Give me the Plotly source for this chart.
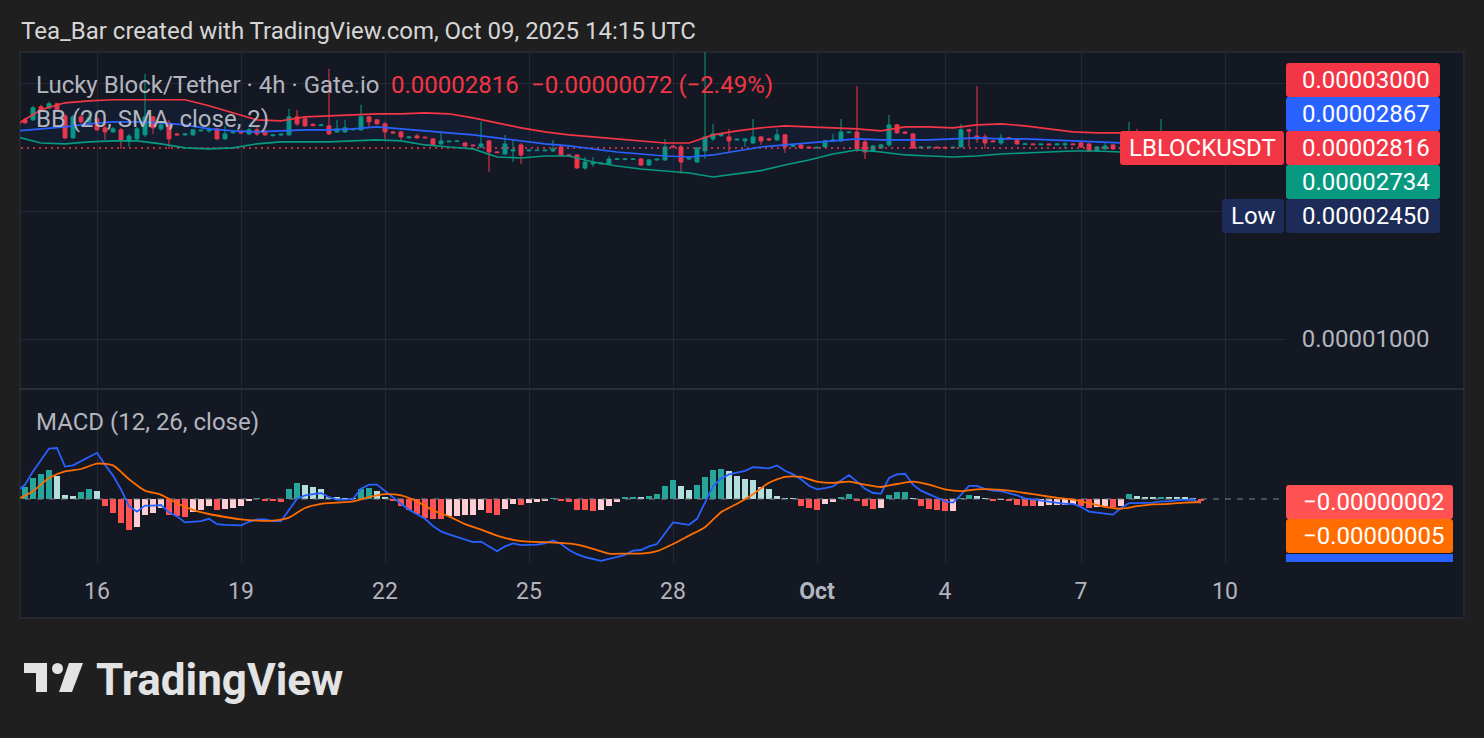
import plotly.graph_objects as go

W, H = 1484, 738

# ---------------- data (prices in units of 1e-8 USDT) ----------------
# 4h bars; bar 0 = 16 Sep 2025 00:00 UTC (a few exchange bars are missing after 1 Oct)
bar_index = list(range(-9, 139))

open_e8 = [3278, 3278, 3518, 3499, 3576, 3350, 2973, 3332, 3243,
           3296, 3139, 3071, 3105, 2925, 2957, 3022, 3332, 3122, 3225,
           3038, 3022, 3022, 3088, 3088, 3122, 2957, 3055, 3068, 3038,
           3105, 3088, 3010, 3020, 3022, 3332, 3296, 3200, 3178, 3173,
           3071, 3071, 3108, 3105, 3332, 3278, 3208, 3071, 3071, 2975,
           3005, 2985, 2957, 2878, 2910, 2918, 2893, 2860, 2831, 2925,
           2755, 2725, 2770, 2862, 2772, 2775, 2772, 2770, 2831, 2711,
           2711, 2526, 2581, 2582, 2581, 2645, 2645, 2645, 2652, 2567,
           2638, 2638, 2845, 2831, 2652, 2609, 2770, 2957, 3010, 2989,
           2940, 2925, 2893, 2989, 2957, 2941, 3022, 2840, 2862, 2830,
           2815, 2831, 2925, 2925, 3058, 3071, 2909, 2770, 2816, 2862,
           3190, 3068, 3038, 2816, 2818, 2828, 2826, 2816, 2831, 3105,
           3005, 2989, 2925, 2893, 2975, 2941, 2868, 2878, 2864, 2876,
           2864, 2866, 2878, 2893, 2878, 2770, 2801, 2862, 2805, 2818,
           2925, 2840, 2870, 2830, 2893, 2840, 2870, 2835, 2888]

high_e8 = [3314, 3537, 3556, 3615, 3595, 3387, 3368, 3368, 3424,
           3332, 3225, 3156, 3139, 3038, 3156, 4204, 3350, 3260, 3278,
           3055, 3038, 3122, 3110, 3156, 3139, 3173, 3075, 3075, 3139,
           3156, 3105, 3028, 3040, 3480, 3461, 3332, 3215, 3198, 4321,
           3278, 3278, 3128, 3556, 3350, 3296, 3243, 3088, 3088, 2995,
           3038, 2995, 2973, 3071, 2928, 2930, 2909, 2870, 3243, 2941,
           2765, 3022, 2941, 2893, 2790, 2790, 2790, 2941, 2847, 2722,
           2725, 2681, 2681, 2600, 2696, 2665, 2665, 2660, 2667, 2652,
           2655, 2957, 2860, 2862, 2681, 2831, 4800, 3208, 3055, 3122,
           2960, 2973, 3296, 3005, 2973, 3122, 3038, 2860, 2878, 2835,
           2832, 2941, 3038, 3296, 3075, 3941, 2941, 2862, 2878, 3368,
           3208, 3080, 3055, 2840, 2835, 2835, 2832, 2832, 3208, 3122,
           3941, 3038, 2941, 3038, 2989, 2957, 2888, 2885, 2882, 2882,
           2885, 2905, 2885, 2909, 2893, 2847, 2909, 2878, 2825, 3243,
           3122, 2941, 2941, 3296, 2941, 2909, 2909, 2893, 2895]

low_e8 = [3208, 3260, 3442, 3480, 3424, 2957, 2957, 3208, 3208,
          3088, 2941, 3055, 2801, 2831, 2925, 2989, 3038, 3088, 2801,
          3005, 3005, 3005, 3080, 3055, 2941, 2941, 3045, 3045, 3022,
          3005, 3005, 2995, 3012, 3005, 3173, 3156, 3165, 3170, 3022,
          3055, 3055, 3098, 3088, 3156, 3190, 2957, 3038, 2941, 2965,
          2957, 2965, 2847, 2862, 2900, 2905, 2831, 2840, 2816, 2473,
          2735, 2711, 2609, 2581, 2765, 2768, 2765, 2755, 2696, 2690,
          2512, 2498, 2540, 2575, 2567, 2640, 2635, 2640, 2553, 2553,
          2630, 2624, 2820, 2450, 2638, 2595, 2652, 2925, 2989, 2755,
          2930, 2831, 2878, 2862, 2925, 2925, 2740, 2832, 2801, 2810,
          2808, 2816, 2909, 2909, 3050, 2755, 2652, 2755, 2801, 2831,
          3038, 3040, 2801, 2810, 2812, 2812, 2810, 2810, 2816, 2831,
          2893, 2801, 2909, 2862, 2957, 2862, 2862, 2860, 2858, 2858,
          2858, 2801, 2860, 2816, 2755, 2755, 2785, 2785, 2795, 2801,
          2785, 2820, 2801, 2816, 2816, 2801, 2816, 2801, 2801]

close_e8 = [3225, 3499, 3461, 3576, 3461, 2973, 3332, 3243, 3314,
            3105, 3071, 3122, 2941, 3005, 3122, 3332, 3139, 3190, 2957,
            3022, 3038, 3105, 3100, 3105, 2957, 3038, 3068, 3055, 3105,
            3038, 3022, 3020, 3035, 3332, 3208, 3173, 3178, 3190, 3038,
            3122, 3139, 3120, 3332, 3243, 3208, 3071, 3055, 2989, 2988,
            2973, 2975, 2862, 2925, 2920, 2922, 2847, 2850, 2878, 2755,
            2745, 2878, 2785, 2711, 2782, 2782, 2782, 2801, 2711, 2700,
            2526, 2609, 2595, 2595, 2652, 2652, 2652, 2652, 2567, 2638,
            2650, 2831, 2832, 2609, 2667, 2816, 2989, 3038, 3035, 2925,
            2952, 2957, 2989, 2925, 2941, 3022, 2831, 2852, 2816, 2818,
            2825, 2925, 2938, 3071, 3068, 2801, 2755, 2847, 2862, 3190,
            3055, 3050, 2816, 2828, 2828, 2818, 2816, 2826, 3105, 3088,
            2957, 2893, 2912, 2973, 2962, 2878, 2878, 2866, 2875, 2865,
            2876, 2878, 2866, 2831, 2770, 2831, 2847, 2801, 2818, 2925,
            2847, 2870, 2830, 2893, 2850, 2870, 2850, 2888, 2816]

# Bollinger Bands (20, SMA, close, 2) read every 3 bars
bb_index = [-10, -7, -4, -1, 2, 5, 8, 11, 14, 17, 20, 23, 26, 29, 32, 35, 38,
            41, 44, 47, 50, 53, 56, 59, 62, 65, 68, 71, 74, 77, 80, 83, 86, 89,
            92, 95, 98, 101, 104, 107, 110, 113, 116, 119, 122, 125, 128, 131,
            134, 137, 138]
bb_upper_e8 = [3200, 3461, 3595, 3634, 3654, 3654, 3654, 3654, 3537, 3405, 3278,
               3260, 3332, 3350, 3368, 3387, 3387, 3405, 3387, 3314, 3225, 3139,
               3071, 3022, 2989, 2957, 2925, 2893, 2893, 3022, 3088, 3139, 3173,
               3156, 3139, 3122, 3088, 3156, 3156, 3139, 3190, 3208, 3173, 3122,
               3071, 3055, 3055, 3038, 3022, 3005, 3000]
bb_basis_e8 = [3088, 3122, 3156, 3208, 3243, 3243, 3225, 3190, 3122, 3088, 3071,
               3088, 3105, 3105, 3122, 3156, 3122, 3088, 3055, 3022, 2973, 2925,
               2878, 2847, 2801, 2755, 2725, 2696, 2681, 2711, 2770, 2831, 2862,
               2893, 2925, 2957, 2941, 2941, 2941, 2957, 2973, 2957, 2957, 2941,
               2925, 2909, 2893, 2878, 2878, 2870, 2867]
bb_lower_e8 = [2989, 2893, 2878, 2909, 2925, 2925, 2878, 2816, 2801, 2816, 2878,
               2909, 2909, 2909, 2925, 2941, 2925, 2862, 2831, 2801, 2681, 2667,
               2696, 2696, 2609, 2553, 2512, 2485, 2458, 2405, 2445, 2490, 2567,
               2638, 2725, 2785, 2755, 2711, 2696, 2681, 2696, 2725, 2740, 2755,
               2770, 2770, 2755, 2755, 2740, 2740, 2734]

last_price_e8 = 2816

# MACD (12, 26, close), values in units of 1e-8
macd_index = list(range(-10, 139))
macd_e8 = [13, 24, 46, 66, 84, 85, 54, 56, 63, 71,
           77, 57, 39, 16, -12, -21, -11, -11, -10, -22,
           -29, -39, -38, -37, -33, -42, -43, -44, -44, -38,
           -34, -34, -37, -37, -19, 0.5, 6, 8, 10, 3,
           -1, -1, 0, 17, 24, 24, 13, 2, -8, -18,
           -26, -33, -45, -54, -59, -63, -68, -72, -71, -79,
           -87, -79, -74, -77, -77, -76, -74, -69, -75, -85,
           -92, -97, -100, -103, -100, -97, -93, -86, -85, -79,
           -75, -57, -39, -41, -43, -33, -7, 21, 34, 41,
           44, 47, 53, 52, 51, 56, 47, 41, 33, 22,
           16, 18, 21, 31, 40, 29, 17, 10, 9, 35,
           41, 42, 24, 14, 8, 2, -4, -6, 7, 22,
           22, 17, 14, 13, 10, 6, 1, -1, -3, -5,
           -7, -8, -8, -13, -21, -23, -24, -26, -15, -7,
           -7, -7, -6, -4, -4, -2, -1, -1, -7]

signal_index = list(range(-10, 139, 2))
signal_e8 = [-1, 13, 35, 46, 50,
             59, 56, 33, 14, 7,
             -7, -18, -25, -30, -34,
             -36, -36, -31, -15, -8,
             -6, -4, 3, 8, 6,
             -4, -19, -29, -42, -51,
             -61, -68, -71, -72, -73,
             -76, -83, -91, -91, -91,
             -87, -75, -61, -47, -22,
             -8, 8, 27, 37, 37,
             29, 27, 29, 24, 20,
             25, 29, 24, 16, 13,
             16, 16, 14, 10, 6,
             2, -1, -7, -13, -16,
             -12, -9, -8, -6, -5]

hist_e8 = [20, 35, 42, 49, 39, 6, 5, 12, 16,
           14, -11, -23, -40, -52, -46, -26, -23, -15, -26,
           -29, -30, -21, -18, -12, -18, -17, -15, -11, -4,
           1, -3, -4, -4.5, 17, 27, 24, 20, 17, 4,
           2, 1.5, 1, 16, 18, 14, 4, -4, -11, -18,
           -25, -32, -33, -34, -29, -28, -27, -26, -19, -23,
           -26, -17, -9, -10, -6, -5, -4, 0.5, -4, -5.5,
           -18, -19, -20, -18, -11, -5.5, 2, 3, 2, 5.5,
           9, 22, 31, 22, 15.5, 24, 37, 49, 50.5, 46,
           39, 34, 32, 20, 17, 5.5, 0.5, 0.3, -11, -15,
           -18, -9, -5.5, 3, 9, -2, -12, -17, -15, 6,
           12, 12.5, 0.5, -11, -17, -19, -20.5, -20, 0.5, 7,
           4.5, 0.3, -2, -1, -4, -9.5, -11, -12, -11, -10.5,
           -10, -9.5, -9, -12, -15.5, -13, -12, -13, -11, 8,
           4.5, 3.3, 2.8, 3, 2.9, 2.5, 2.3, 1.5, -2]

tick_bars = [0, 18, 36, 54, 72, 90, 106, 123, 141]
tick_labels = ["16", "19", "22", "25", "28", "<b>Oct</b>", "4", "7", "10"]

# price grid levels; only the 0.00001000 label is visible (others sit under the badges)
price_ticks = [1e-5, 2e-5, 4e-5]
price_tick_text = ["0.00001000", "", ""]

E8 = 1e-8
# ---------------- styling ----------------
PAGE = "#1f1f1f"
PANEL = "#141823"
GRID = "#242834"
GREEN = "#089981"
RED = "#F23645"
BLUE = "#2962FF"
ORANGE = "#FF6D00"
TXT = "#B2B5BE"
FONT = "Roboto, sans-serif"


def fx(x):
    return x / W


def fy(y):
    return 1 - y / H


def rrect(x0, y0, x1, y1, r=3):
    return (f"M {fx(x0 + r)},{fy(y0)} L {fx(x1 - r)},{fy(y0)} Q {fx(x1)},{fy(y0)} {fx(x1)},{fy(y0 + r)} "
            f"L {fx(x1)},{fy(y1 - r)} Q {fx(x1)},{fy(y1)} {fx(x1 - r)},{fy(y1)} "
            f"L {fx(x0 + r)},{fy(y1)} Q {fx(x0)},{fy(y1)} {fx(x0)},{fy(y1 - r)} "
            f"L {fx(x0)},{fy(y0 + r)} Q {fx(x0)},{fy(y0)} {fx(x0 + r)},{fy(y0)} Z")


def sc(vals):
    return [v * E8 for v in vals]


fig = go.Figure()

# Bollinger fill
fig.add_trace(go.Scatter(x=bb_index, y=sc(bb_upper_e8), mode="lines",
                         line=dict(width=0, color=RED), hoverinfo="skip", showlegend=False))
fig.add_trace(go.Scatter(x=bb_index, y=sc(bb_lower_e8), mode="lines", fill="tonexty",
                         fillcolor="rgba(41,98,255,0.06)", line=dict(width=0, color=GREEN),
                         hoverinfo="skip", showlegend=False))
# last price dotted line
fig.add_trace(go.Scatter(x=[bar_index[0] - 2, bar_index[-1] + 20],
                         y=[last_price_e8 * E8, last_price_e8 * E8], mode="lines",
                         line=dict(color=RED, width=1.5, dash="2px,4px"),
                         hoverinfo="skip", showlegend=False))
# candles
fig.add_trace(go.Candlestick(x=bar_index, open=sc(open_e8), high=sc(high_e8), low=sc(low_e8),
                             close=sc(close_e8), whiskerwidth=0,
                             increasing=dict(line=dict(color=GREEN, width=1), fillcolor=GREEN),
                             decreasing=dict(line=dict(color=RED, width=1), fillcolor=RED),
                             hoverinfo="skip", showlegend=False))
# BB lines
for vals, col in [(bb_upper_e8, RED), (bb_basis_e8, BLUE), (bb_lower_e8, GREEN)]:
    fig.add_trace(go.Scatter(x=bb_index, y=sc(vals), mode="lines",
                             line=dict(color=col, width=1.6), hoverinfo="skip", showlegend=False))

# MACD pane
fig.add_trace(go.Scatter(x=[-12, 160], y=[0, 0], mode="lines",
                         line=dict(color="rgba(120,123,134,0.75)", width=1.5, dash="6px,6px"),
                         xaxis="x2", yaxis="y2", hoverinfo="skip", showlegend=False))
hist_colors = []
prev = None
for v in hist_e8:
    p = v - 1 if prev is None else prev
    if v >= 0:
        hist_colors.append("#26A69A" if v > p else "#B2DFDB")
    else:
        hist_colors.append("#FFCDD2" if v > p else "#FF5252")
    prev = v
fig.add_trace(go.Bar(x=bar_index, y=sc(hist_e8), width=0.7, marker=dict(color=hist_colors, line=dict(width=0)),
                     xaxis="x2", yaxis="y2", hoverinfo="skip", showlegend=False))
fig.add_trace(go.Scatter(x=macd_index, y=sc(macd_e8), mode="lines", line=dict(color=BLUE, width=1.8),
                         xaxis="x2", yaxis="y2", hoverinfo="skip", showlegend=False))
fig.add_trace(go.Scatter(x=signal_index, y=sc(signal_e8), mode="lines",
                         line=dict(color=ORANGE, width=1.8, shape="spline", smoothing=0.6),
                         xaxis="x2", yaxis="y2", hoverinfo="skip", showlegend=False))

XR = [-9.625, 148.5]
dom_x = [fx(20), fx(1285)]
shapes = [
    dict(type="rect", xref="paper", yref="paper", x0=fx(20), x1=fx(1464), y0=fy(618), y1=fy(52),
         fillcolor=PANEL, line=dict(color="#2a2d36", width=1.5), layer="below"),
    dict(type="line", xref="paper", yref="paper", x0=fx(20), x1=fx(1464), y0=fy(389), y1=fy(389),
         line=dict(color="#2a2e39", width=2)),
]

# badges
price_badges = [("0.00003000", RED, 63, 97), ("0.00002867", BLUE, 97, 131),
                ("0.00002816", RED, 131, 165), ("0.00002734", GREEN, 165, 199),
                ("0.00002450", "#1c2b57", 199, 233)]
annotations = []
for txt, col, y0, y1 in price_badges:
    shapes.append(dict(type="path", xref="paper", yref="paper", path=rrect(1286, y0, 1440, y1),
                       fillcolor=col, line=dict(width=0)))
    annotations.append(dict(x=fx(1432), y=fy((y0 + y1) / 2), xref="paper", yref="paper", text=txt,
                            xanchor="right", yanchor="middle", showarrow=False,
                            font=dict(family=FONT, size=24, color="white")))
shapes.append(dict(type="path", xref="paper", yref="paper", path=rrect(1120, 131, 1284, 165),
                   fillcolor=RED, line=dict(width=0)))
annotations.append(dict(x=fx(1202), y=fy(148), xref="paper", yref="paper", text="LBLOCKUSDT",
                        xanchor="center", yanchor="middle", showarrow=False,
                        font=dict(family=FONT, size=24, color="white")))
shapes.append(dict(type="path", xref="paper", yref="paper", path=rrect(1222, 199, 1284, 233),
                   fillcolor="#1c2b57", line=dict(width=0)))
annotations.append(dict(x=fx(1253), y=fy(216), xref="paper", yref="paper", text="Low",
                        xanchor="center", yanchor="middle", showarrow=False,
                        font=dict(family=FONT, size=24, color="white")))

macd_badges = [("−0.00000002", "#FF5252", 485, 519), ("−0.00000005", ORANGE, 519, 553)]
for txt, col, y0, y1 in macd_badges:
    shapes.append(dict(type="path", xref="paper", yref="paper", path=rrect(1286, y0, 1453, y1),
                       fillcolor=col, line=dict(width=0)))
    annotations.append(dict(x=fx(1446), y=fy((y0 + y1) / 2), xref="paper", yref="paper", text=txt,
                            xanchor="right", yanchor="middle", showarrow=False,
                            font=dict(family=FONT, size=24, color="white")))
shapes.append(dict(type="rect", xref="paper", yref="paper", x0=fx(1286), x1=fx(1453), y0=fy(562), y1=fy(554),
                   fillcolor=BLUE, line=dict(width=0)))

# legend texts
annotations += [
    dict(x=fx(19), y=fy(31), text="Tea_Bar created with TradingView.com, Oct 09, 2025 14:15 UTC",
         font=dict(family=FONT, size=24, color="#D6D6D6")),
    dict(x=fx(34), y=fy(85), text="Lucky Block/Tether · 4h · Gate.io",
         font=dict(family=FONT, size=24, color=TXT)),
    dict(x=fx(389), y=fy(85), text="0.00002816", font=dict(family=FONT, size=24, color=RED)),
    dict(x=fx(529), y=fy(85), text="−0.00000072 (−2.49%)", font=dict(family=FONT, size=24, color=RED)),
    dict(x=fx(34), y=fy(119), text="BB (20, SMA, close, 2)", font=dict(family=FONT, size=24, color=TXT)),
    dict(x=fx(34), y=fy(422), text="MACD (12, 26, close)", font=dict(family=FONT, size=24, color=TXT)),
    dict(x=fx(94), y=fy(680), text="<b>TradingView</b>", font=dict(family=FONT, size=44, color="#E3E3E3")),
]
for a in annotations[-7:]:
    a.update(xref="paper", yref="paper", xanchor="left", yanchor="middle", showarrow=False)

# TradingView logo glyph
LOGO = "#E3E3E3"
shapes += [
    dict(type="rect", xref="paper", yref="paper", x0=fx(24), x1=fx(47), y0=fy(673), y1=fy(663),
         fillcolor=LOGO, line=dict(width=0)),
    dict(type="rect", xref="paper", yref="paper", x0=fx(36), x1=fx(47), y0=fy(692), y1=fy(663),
         fillcolor=LOGO, line=dict(width=0)),
    dict(type="circle", xref="paper", yref="paper", x0=fx(52), x1=fx(63), y0=fy(674), y1=fy(663),
         fillcolor=LOGO, line=dict(width=0)),
    dict(type="path", xref="paper", yref="paper",
         path=f"M {fx(69)},{fy(663)} L {fx(83)},{fy(663)} L {fx(72)},{fy(692)} L {fx(59)},{fy(692)} Z",
         fillcolor=LOGO, line=dict(width=0)),
]

fig.update_layout(
    width=W, height=H, margin=dict(l=0, r=0, t=0, b=0),
    paper_bgcolor=PAGE, plot_bgcolor="rgba(0,0,0,0)",
    showlegend=False, hovermode=False, bargap=0, boxgap=0.3,
    font=dict(family=FONT, color=TXT),
    shapes=shapes, annotations=annotations,
    xaxis=dict(domain=dom_x, range=XR, anchor="y", showgrid=True, gridcolor=GRID, gridwidth=1,
               tickvals=tick_bars, showticklabels=False, zeroline=False, showline=False,
               rangeslider=dict(visible=False), fixedrange=True),
    yaxis=dict(domain=[fy(388), fy(52)], type="log", range=[-5 - 49 / 425, -5 + 287 / 425],
               anchor="x", side="right", tickvals=price_ticks, ticktext=price_tick_text,
               showgrid=True, gridcolor=GRID, gridwidth=1, ticks="outside", ticklen=11,
               tickcolor="rgba(0,0,0,0)", tickfont=dict(family=FONT, size=24, color=TXT),
               zeroline=False, showline=False, fixedrange=True),
    xaxis2=dict(domain=dom_x, range=XR, anchor="y2", matches="x", showgrid=True, gridcolor=GRID,
                tickvals=tick_bars, ticktext=tick_labels, ticks="outside", ticklen=7,
                tickcolor="rgba(0,0,0,0)", tickfont=dict(family=FONT, size=23, color=TXT),
                zeroline=False, showline=False, fixedrange=True),
    yaxis2=dict(domain=[fy(563), fy(390)], range=[-106.67e-8, 181.67e-8], anchor="x2",
                showticklabels=False, showgrid=False, zeroline=False, showline=False, fixedrange=True),
)

fig.write_html("out.html", config={"displayModeBar": False})
